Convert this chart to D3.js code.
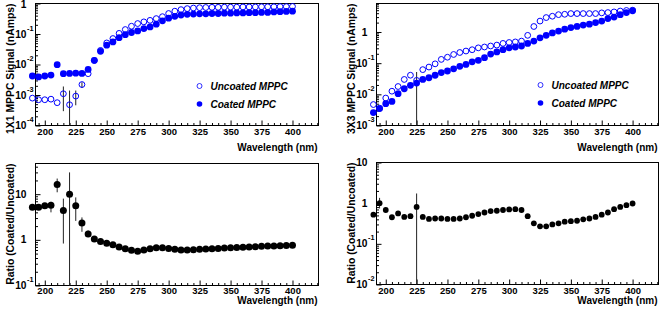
<!DOCTYPE html>
<html>
<head>
<meta charset="utf-8">
<script src="https://cdnjs.cloudflare.com/ajax/libs/d3/7.8.5/d3.min.js"></script>
<style>
    body { margin: 0; background: #fff; }
    svg { display: block; }
    text { font-family: "Liberation Sans", Arial, sans-serif; font-weight: bold; fill: #000; }
</style>
</head>
<body>
<div id="chart"></div>
<script>

// wavelength of each measurement (nm)
const wavelengths = [190, 195, 200, 205, 210, 215, 220, 225, 230, 235, 240, 245, 250, 255, 260, 265, 270, 275, 280, 285,
    290, 295, 300, 305, 310, 315, 320, 325, 330, 335, 340, 345, 350, 355, 360, 365, 370, 375, 380, 385, 390, 395, 400];

const xTickLabels = [200, 225, 250, 275, 300, 325, 350, 375, 400];

// 1X1 MPPC signal (nAmps)
const signal1x1Uncoated = [7.9e-4, 7.0e-4, 7.0e-4, 7.3e-4, 5.6e-4, 1.1e-3, 4.8e-4, 9.2e-4, 2.2e-3, 5.0e-3,
    0.0135, 0.029, 0.051, 0.071, 0.105, 0.14, 0.18, 0.22, 0.25, 0.28,
    0.32, 0.37, 0.47, 0.56, 0.63, 0.68, 0.71, 0.73, 0.74, 0.75,
    0.75, 0.76, 0.76, 0.76, 0.77, 0.77, 0.77, 0.78, 0.78, 0.78,
    0.79, 0.79, 0.80];
const signal1x1Coated = [0.0042, 0.0039, 0.0042, 0.0045, 0.0099, 0.0050, 0.0051, 0.0052, 0.0051, 0.0069,
    0.0137, 0.027, 0.043, 0.055, 0.076, 0.095, 0.112, 0.126, 0.151, 0.17,
    0.21, 0.27, 0.33, 0.38, 0.42, 0.44, 0.45, 0.46, 0.46, 0.47,
    0.47, 0.48, 0.48, 0.49, 0.49, 0.50, 0.50, 0.51, 0.51, 0.53,
    0.54, 0.55, 0.56];
const ratio1x1 = [5.2, 5.2, 5.6, 5.7, 16.2, 4.4, 10.0, 5.6, 2.35, 1.35,
    1.05, 0.92, 0.84, 0.78, 0.70, 0.64, 0.59, 0.56, 0.60, 0.64,
    0.67, 0.67, 0.65, 0.62, 0.60, 0.60, 0.61, 0.62, 0.63, 0.64,
    0.65, 0.66, 0.67, 0.68, 0.69, 0.70, 0.71, 0.72, 0.73, 0.73,
    0.74, 0.75, 0.76];

// 3X3 MPPC signal (nAmps)
const signal3x3Uncoated = [0.0047, 0.0036, 0.0076, 0.0126, 0.0178, 0.030, 0.041, 0.028, 0.062, 0.075,
    0.095, 0.132, 0.155, 0.19, 0.22, 0.245, 0.27, 0.31, 0.33, 0.355,
    0.38, 0.43, 0.46, 0.48, 0.51, 0.78, 1.5, 2.24, 2.9, 3.2,
    3.6, 3.7, 3.9, 3.9, 3.9, 3.9, 3.9, 4.1, 4.2, 4.4,
    4.7, 4.9, 5.0];
const signal3x3Coated = [0.0026, 0.0035, 0.0050, 0.0059, 0.0105, 0.0151, 0.0195, 0.0229, 0.030, 0.034,
    0.041, 0.050, 0.056, 0.066, 0.079, 0.091, 0.11, 0.123, 0.15, 0.195,
    0.23, 0.27, 0.31, 0.33, 0.355, 0.43, 0.51, 0.65, 0.78, 0.93,
    1.07, 1.23, 1.38, 1.51, 1.66, 1.78, 2.0, 2.24, 2.7, 3.0,
    3.6, 4.2, 4.8];
const ratio3x3 = [0.52, 1.0, 0.68, 0.45, 0.56, 0.46, 0.48, 0.81, 0.46, 0.41,
    0.42, 0.42, 0.41, 0.41, 0.42, 0.45, 0.49, 0.54, 0.59, 0.64,
    0.65, 0.68, 0.70, 0.71, 0.68, 0.48, 0.32, 0.27, 0.27, 0.30,
    0.32, 0.35, 0.36, 0.37, 0.40, 0.42, 0.46, 0.52, 0.59, 0.71,
    0.81, 0.89, 0.98];

// error bars: [wavelength, low, high]
const err1x1Uncoated = [[215, 2.95e-4, 1.9e-3], [220, 1e-6, 1.4e-3], [225, 4.6e-4, 1.4e-3], [230, 1.7e-3, 2.6e-3]];
const errRatio1x1 = [[205, 4.0, 6.8], [210, 11, 22], [215, 0.83, 8.0], [220, 0.02, 30], [225, 2.6, 8.5], [230, 1.5, 3.1], [235, 1.15, 1.6]];
const err3x3Uncoated = [[225, 1e-5, 0.052]];
const errRatio3x3 = [[195, 0.74, 1.35], [225, 1e-4, 1.73]];

const xRange = [192.5, 421];
const blue = '#0000ff';

class LogPanel {

    constructor(svg, config) {
        this.svg = svg;
        Object.assign(this, config);
        this.initVis();
    }

    initVis() {
        let vis = this;

        vis.x = d3.scaleLinear().domain(xRange).range([vis.left, vis.right]);
        vis.y = d3.scaleLog().domain(vis.yDomain).range([vis.bottom, vis.top]);

        vis.g = vis.svg.append('g');

        // frame
        vis.g.append('rect')
            .attr('x', vis.left).attr('y', vis.top)
            .attr('width', vis.right - vis.left).attr('height', vis.bottom - vis.top)
            .attr('fill', 'none').attr('stroke', '#000').attr('stroke-width', 1);

        // x axis (ticks point inward, ROOT style)
        let minors = d3.range(195, xRange[1], 5).filter(d => !xTickLabels.includes(d));
        vis.g.append('g')
            .attr('transform', `translate(0, ${vis.bottom})`)
            .call(d3.axisBottom(vis.x).tickValues(minors).tickSize(-2.5).tickFormat(''))
            .call(g => g.select('.domain').remove());
        vis.g.append('g')
            .attr('class', 'x-axis')
            .attr('transform', `translate(0, ${vis.bottom})`)
            .call(d3.axisBottom(vis.x).tickValues(xTickLabels).tickSize(-5).tickPadding(vis.xLabelPad))
            .call(g => g.select('.domain').remove())
            .call(g => g.selectAll('text').attr('font-size', 9.5).attr('font-family', null));

        // y axis, log ticks
        let lo = Math.round(Math.log10(vis.yDomain[0]));
        let hi = Math.floor(Math.log10(vis.yDomain[1]));
        let decades = d3.range(lo, hi + 1).map(e => Math.pow(10, e));
        let minorY = [];
        d3.range(lo, hi + 1).forEach(e => {
            for (let k = 2; k <= 9; k++) {
                let v = k * Math.pow(10, e);
                if (v <= vis.yDomain[1]) minorY.push(v);
            }
        });
        vis.g.append('g')
            .attr('transform', `translate(${vis.left}, 0)`)
            .call(d3.axisLeft(vis.y).tickValues(minorY).tickSize(-2.5).tickFormat(''))
            .call(g => g.select('.domain').remove());
        vis.g.append('g')
            .attr('transform', `translate(${vis.left}, 0)`)
            .call(d3.axisLeft(vis.y).tickValues(decades).tickSize(-5).tickFormat(''))
            .call(g => g.select('.domain').remove());

        // decade labels: 1, 10, 10^-n
        decades.forEach(v => {
            let e = Math.round(Math.log10(v));
            let yy = vis.y(v);
            vis.g.append('text')
                .attr('x', vis.left - 9).attr('y', Math.max(yy + 3.6, 8))
                .attr('text-anchor', 'end').attr('font-size', 10.2)
                .text(e === 0 ? '1' : '10');
            if (e < 0) {
                vis.g.append('text')
                    .attr('x', vis.left - 8.5).attr('y', yy - 3.5)
                    .attr('font-size', 7.3)
                    .text(e);
            }
        });

        // axis titles
        vis.g.append('text')
            .attr('x', vis.right - 1).attr('y', vis.xTitleY)
            .attr('text-anchor', 'end').attr('font-size', 10)
            .text('Wavelength (nm)');
        vis.g.append('text')
            .attr('transform', `translate(${vis.left - 22}, ${vis.top}) rotate(-90)`)
            .attr('text-anchor', 'end').attr('font-size', 10.4)
            .text(vis.yTitle);

        vis.updateVis();
    }

    updateVis() {
        let vis = this;

        // error bars, clipped to the frame
        vis.errors.forEach(([wl, lo, hi]) => {
            let y1 = Math.min(vis.bottom, vis.y(Math.max(lo, vis.yDomain[0] / 10)));
            let y2 = Math.max(vis.top, vis.y(hi));
            vis.g.append('line')
                .attr('x1', vis.x(wl)).attr('x2', vis.x(wl))
                .attr('y1', y1).attr('y2', y2)
                .attr('stroke', '#222').attr('stroke-width', 1);
        });

        vis.series.forEach(s => {
            let pts = wavelengths.map((wl, i) => ({wl: wl, v: s.values[i]}));
            vis.g.append('g').selectAll('circle')
                .data(pts)
                .enter()
                .append('circle')
                .attr('cx', d => vis.x(d.wl))
                .attr('cy', d => vis.y(d.v))
                .attr('r', s.filled ? s.r : s.r - 0.5)
                .attr('fill', s.filled ? s.color : 'none')
                .attr('stroke', s.color)
                .attr('stroke-width', s.filled ? 0 : 1);
        });

        // legend
        if (vis.legend) {
            let rows = [
                {label: 'Uncoated MPPC', filled: false, dy: 0},
                {label: 'Coated MPPC', filled: true, dy: 18}
            ];
            rows.forEach(r => {
                vis.g.append('circle')
                    .attr('cx', vis.legend.x).attr('cy', vis.legend.y + r.dy)
                    .attr('r', r.filled ? 2.8 : 2.5)
                    .attr('fill', r.filled ? blue : 'none')
                    .attr('stroke', blue).attr('stroke-width', r.filled ? 0 : 0.8);
                vis.g.append('text')
                    .attr('x', vis.legend.x + 11).attr('y', vis.legend.y + r.dy + 3.6)
                    .attr('font-size', 10).attr('font-style', 'italic')
                    .text(r.label);
            });
        }
    }
}

let svg = d3.select('#chart').append('svg')
    .attr('width', 660)
    .attr('height', 314);

new LogPanel(svg, {
    left: 35.5, right: 318.5, top: 3.5, bottom: 125.5,
    yDomain: [1e-4, 1], yTitle: '1X1 MPPC Signal (nAmps)',
    xLabelPad: 3, xTitleY: 151,
    errors: err1x1Uncoated,
    series: [
        {values: signal1x1Uncoated, filled: false, color: blue, r: 3.4},
        {values: signal1x1Coated, filled: true, color: blue, r: 3.4}
    ],
    legend: {x: 199.5, y: 86}
});

new LogPanel(svg, {
    left: 376.5, right: 658.5, top: 3.5, bottom: 125.5,
    yDomain: [1e-3, 8.2], yTitle: '3X3 MPPC Signal (nAmps)',
    xLabelPad: 3, xTitleY: 151,
    errors: err3x3Uncoated,
    series: [
        {values: signal3x3Uncoated, filled: false, color: blue, r: 3.4},
        {values: signal3x3Coated, filled: true, color: blue, r: 3.4}
    ],
    legend: {x: 540.5, y: 85}
});

new LogPanel(svg, {
    left: 35.5, right: 318.5, top: 163.5, bottom: 285.5,
    yDomain: [0.1, 47], yTitle: 'Ratio (Coated/Uncoated)',
    xLabelPad: 1.5, xTitleY: 304,
    errors: errRatio1x1,
    series: [
        {values: ratio1x1, filled: true, color: '#000', r: 3.5}
    ],
    legend: null
});

new LogPanel(svg, {
    left: 376.5, right: 658.5, top: 162.5, bottom: 284.5,
    yDomain: [0.01, 10], yTitle: 'Ratio (Coated/Uncoated)',
    xLabelPad: 2.5, xTitleY: 304,
    errors: errRatio3x3,
    series: [
        {values: ratio3x3, filled: true, color: '#000', r: 2.9}
    ],
    legend: null
});

</script>
</body>
</html>
